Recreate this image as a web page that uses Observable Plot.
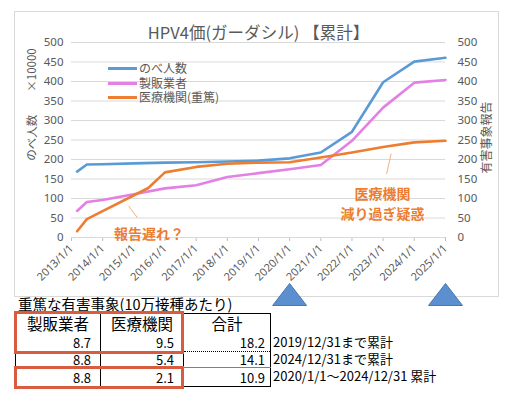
<!DOCTYPE html>
<html><head><meta charset="utf-8">
<script src="https://cdn.jsdelivr.net/npm/d3@7"></script>
<script src="https://cdn.jsdelivr.net/npm/@observablehq/plot@0.6"></script>
<style>
body{margin:0;background:#fff;font-family:"Noto Sans CJK JP","Noto Sans",sans-serif;}
#wrap{position:relative;width:513px;height:398px;overflow:hidden;background:#fff}
#wrap svg{position:absolute;left:0;top:0}
#legend{position:absolute;left:108px;top:61px;font-size:12px;color:#595959;line-height:14.5px}
#legend .sw{display:inline-block;width:29px;height:3px;vertical-align:middle;margin-right:2px;margin-top:-2px}
#ttl{position:absolute;left:18px;top:296px;font-size:14.5px;color:#000;white-space:nowrap;line-height:1.1}
#tbl{position:absolute;left:15px;top:313px;border-collapse:collapse;table-layout:fixed;width:255px;color:#000}
#tbl td,#tbl th{padding:0;border-left:1px solid #000;border-right:1px solid #000;line-height:1;}
#tbl th{font-weight:normal;font-size:15.5px;height:20px;text-align:center;}
#tbl th.c3{border-top:1px solid #000}
#tbl td{text-align:right;font-size:13px;padding-right:9px}
#tbl td.c3{padding-right:5px}
#tbl tr.r1 td{border-bottom:1px dotted #000;height:17px}
#tbl tr.r2 td{border-bottom:1px solid #808080;height:15px}
#tbl tr.r3 td{border-bottom:1px solid #000;height:18px}
.box{position:absolute;border:3px solid #d95c41;box-sizing:border-box}
.nt{position:absolute;left:273px;font-size:13px;color:#000;white-space:nowrap;line-height:14px}
</style></head><body><div id="wrap"></div>
<script>
// ---- chart data ----
const chartTitle = "HPV4価(ガーダシル) 【累計】";
const seriesNames = ["のべ人数", "製販業者", "医療機関(重篤)"];
const seriesColors = ["#5b9bd5", "#e47fe4", "#ed7d31"];

const totalDates = ["2013-03-08","2013-06-30","2014-01-01","2015-01-01","2016-01-01","2017-01-01","2018-01-01","2019-01-01","2020-01-01","2021-01-01","2022-01-01","2023-01-01","2024-01-01","2025-01-01"];
const totalValues = [169, 187, 188, 190, 192, 193, 195, 197, 203, 218, 271, 398, 451, 461];

const makerDates = ["2013-03-08","2013-06-30","2014-01-01","2015-01-01","2016-01-01","2017-01-01","2018-01-01","2019-01-01","2020-01-01","2021-01-01","2022-01-01","2023-01-01","2024-01-01","2025-01-01"];
const makerValues = [68, 91, 96, 111, 126, 134, 155, 165, 175, 186, 248, 333, 397, 404];

const hospitalDates = ["2013-03-08","2013-06-30","2015-06-20","2016-01-01","2017-01-01","2018-01-01","2019-01-01","2020-01-01","2021-01-01","2022-01-01","2023-01-01","2024-01-01","2025-01-01"];
const hospitalValues = [16, 47, 127, 167, 181, 189, 192, 193, 205, 218, 232, 244, 248];

const yTicks = [0, 50, 100, 150, 200, 250, 300, 350, 400, 450, 500];
const xTickYears = [2013, 2014, 2015, 2016, 2017, 2018, 2019, 2020, 2021, 2022, 2023, 2024, 2025];
const leftAxisLabel = "のべ人数　　×10000";
const rightAxisLabel = "有害事象報告";

const noteTexts = [
  {date: "2015-06-27", value: 12, text: "報告遅れ？"},
  {date: "2022-12-25", value: 89.7, text: "医療機関\n減り過ぎ疑惑"}
];
const notePointers = [
  {d1: "2014-10-30", v1: 81, d2: "2015-02-14", v2: 50.5},
  {d1: "2023-04-05", v1: 215, d2: "2023-02-10", v2: 162.6}
];
const markerDates = ["2020-01-01", "2025-01-01"];

// ---- table data ----
const tableTitle = "重篤な有害事象(10万接種あたり)";
const tableHeaders = ["製販業者", "医療機関", "合計"];
const makerRates = [8.7, 8.8, 8.8];
const hospitalRates = [9.5, 5.4, 2.1];
const totalRates = [18.2, 14.1, 10.9];
const periodNotes = ["2019/12/31まで累計", "2024/12/31まで累計", "2020/1/1～2024/12/31 累計"];

// ---- build ----
const seriesDates = [totalDates, makerDates, hospitalDates];
const seriesValues = [totalValues, makerValues, hospitalValues];
const rows = seriesNames.flatMap((name, i) => seriesDates[i].map((d, j) => ({series: name, date: new Date(d), value: seriesValues[i][j]})));
const xTicks = xTickYears.map(y => new Date(Date.UTC(y, 0, 1)));

const tri = {
  draw(ctx) {
    ctx.moveTo(0, -11);
    ctx.lineTo(17, 11);
    ctx.lineTo(-17, 11);
    ctx.closePath();
  }
};

const font = '"Noto Sans","Noto Sans CJK JP",sans-serif';
const cjk = '"Noto Sans CJK JP",sans-serif';
const chart = Plot.plot({
  width: 513, height: 398,
  marginLeft: 71, marginRight: 68, marginTop: 42, marginBottom: 161,
  style: {fontFamily: font, background: "transparent", overflow: "visible"},
  x: {type: "utc", domain: [xTicks[0], xTicks[xTicks.length - 1]]},
  y: {domain: [0, 500]},
  color: {domain: seriesNames, range: seriesColors},
  marks: [
    Plot.frame({stroke: "#d9d9d9", insetLeft: -57, insetTop: -31, insetRight: -53, insetBottom: -59}),
    Plot.gridY(yTicks, {stroke: "#d9d9d9", strokeOpacity: 1}),
    Plot.axisY(yTicks, {anchor: "left", tickSize: 0, tickPadding: 8, fontSize: 11.5, fill: "#595959", label: null}),
    Plot.axisY(yTicks, {anchor: "right", tickSize: 0, tickPadding: 12, fontSize: 11.5, fill: "#595959", label: null}),
    Plot.axisX(xTicks, {anchor: "bottom", tickRotate: -45, tickSize: 4, tickPadding: 5, stroke: "#bfbfbf", fill: "#595959", fontSize: 11, label: null,
      tickFormat: d => `${d.getUTCFullYear()}/1/1`}),
    Plot.ruleY([0], {stroke: "#d9d9d9"}),
    Plot.lineY(rows, {x: "date", y: "value", z: "series", stroke: "series", strokeWidth: 2.6}),
    Plot.link(notePointers, {x1: d => new Date(d.d1), y1: "v1", x2: d => new Date(d.d2), y2: "v2", stroke: "#f4b183", strokeWidth: 1}),
    Plot.text(noteTexts, {x: d => new Date(d.date), y: "value", text: "text", fill: "#ed7d31", fontWeight: "bold", fontSize: 14, lineHeight: 1.43, fontFamily: cjk}),
    Plot.text([chartTitle], {frameAnchor: "top", dy: -9, lineAnchor: "middle", textAnchor: "middle", fontSize: 16.5, fill: "#595959", fontFamily: cjk}),
    Plot.text([leftAxisLabel], {frameAnchor: "top-left", dx: -39, dy: 62, rotate: -90, textAnchor: "middle", lineAnchor: "middle", fontSize: 11.5, fill: "#595959", fontFamily: cjk}),
    Plot.text([rightAxisLabel], {frameAnchor: "top-right", dx: 42, dy: 95, rotate: -90, textAnchor: "middle", lineAnchor: "middle", fontSize: 12, fill: "#595959", fontFamily: cjk}),
    Plot.dot(markerDates, {x: d => new Date(d), frameAnchor: "bottom", dy: 57, symbol: tri, fill: "#5b8fcf", stroke: "#4a78b0", strokeWidth: 1})
  ]
});

const wrap = document.getElementById("wrap");
wrap.appendChild(chart);

// legend
const lg = document.createElement("div");
lg.id = "legend";
seriesNames.forEach((n, i) => {
  const r = document.createElement("div");
  const sw = document.createElement("span");
  sw.className = "sw"; sw.style.background = seriesColors[i];
  r.appendChild(sw);
  r.appendChild(document.createTextNode(n));
  lg.appendChild(r);
});
wrap.appendChild(lg);

// table
const tt = document.createElement("div");
tt.id = "ttl"; tt.textContent = tableTitle;
wrap.appendChild(tt);
const tb = document.createElement("table");
tb.id = "tbl";
tb.innerHTML = `<colgroup><col style="width:85px"><col style="width:83px"><col style="width:87px"></colgroup>` +
  `<tr><th>${tableHeaders[0]}</th><th>${tableHeaders[1]}</th><th class="c3">${tableHeaders[2]}</th></tr>` +
  makerRates.map((m, i) => `<tr class="r${i + 1}"><td>${m.toFixed(1)}</td><td>${hospitalRates[i].toFixed(1)}</td><td class="c3">${totalRates[i].toFixed(1)}</td></tr>`).join("");
wrap.appendChild(tb);

[[14, 311, 170, 43], [14, 366, 170, 23]].forEach(([l, t, w, h]) => {
  const b = document.createElement("div");
  b.className = "box";
  Object.assign(b.style, {left: l + "px", top: t + "px", width: w + "px", height: h + "px"});
  wrap.appendChild(b);
});
const noteTops = [335, 352, 369];
periodNotes.forEach((s, i) => {
  const d = document.createElement("div");
  d.className = "nt"; d.textContent = s; d.style.top = noteTops[i] + "px";
  wrap.appendChild(d);
});
</script></body></html>
